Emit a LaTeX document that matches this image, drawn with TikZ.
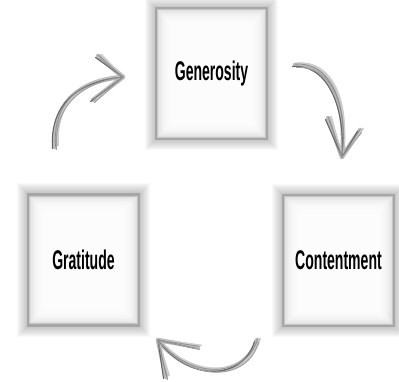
\documentclass[tikz,border=0pt]{standalone}
\usepackage{fontspec}
\newfontfamily\cardfont{Liberation Sans}
\usetikzlibrary{backgrounds}

\tikzset{
  card/.style={draw=gray!70, line width=3.5pt, minimum width=110pt, minimum height=130pt,
    inner sep=0pt, font=\cardfont\bfseries\fontsize{27}{27}\selectfont},
  brush/.style={line cap=round, line join=round},
}
\newcommand{\cardtext}[1]{\scalebox{0.52}[1]{#1}}

\begin{document}
\begin{tikzpicture}[x=1pt, y=-1pt]
  \useasboundingbox (0,0) rectangle (399,381);

  % the three cards
  \node[card] (gen) at (211.5,73.5) {\cardtext{Generosity}};
  \node[card] (grat) at (83.5,260) {\cardtext{Gratitude}};
  \node[card] (cont) at (338.5,260.5) {\cardtext{Contentment}};

  % soft shadow and inner glow
  \begin{scope}[on background layer]
    \foreach \n in {gen,grat,cont} {
      \foreach \k in {1,...,10}
        \fill[black, opacity=0.025] ([xshift=-\k pt, yshift=\k pt]\n.north west)
          rectangle ([xshift=\k pt, yshift=-\k pt]\n.south east);
      \fill[gray!45] (\n.north west) rectangle (\n.south east);
      \foreach \k in {1,...,12}
        \fill[white, opacity=0.27] ([xshift=1.5*\k pt, yshift=-1.5*\k pt]\n.north west)
          rectangle ([xshift=-1.5*\k pt, yshift=1.5*\k pt]\n.south east);
    }
  \end{scope}
  \foreach \n in {gen,grat,cont}
    \draw[gray!45, line width=1pt] ([xshift=3pt, yshift=-3pt]\n.north west)
      rectangle ([xshift=-3pt, yshift=3pt]\n.south east);

  % arrow ends
  \coordinate (la) at (55,147);
  \coordinate (lb) at (123,77);
  \coordinate (ra) at (295,65);
  \coordinate (rb) at (342,157);
  \coordinate (ba) at (257,340);
  \coordinate (bb) at (158,340);

  % hand drawn arrows
  \foreach \dx/\dy/\c/\w in {0/0/gray!55/4.5pt, 3/1.5/gray!40/2pt, -2.5/-1.5/black!60/1.1pt, 1.5/-2.5/gray!75/1pt, 0.5/0.8/black!45/0.7pt} {
    \draw[brush, draw=\c, line width=\w]
      ([xshift=\dx pt, yshift=\dy pt]la) .. controls (52+\dx,103-\dy) and (80+\dx,80-\dy) .. (lb)
      (lb) -- ([xshift=\dx pt, yshift=\dy pt]98,56)
      (lb) -- ([xshift=\dx pt, yshift=\dy pt]93,100);
    \draw[brush, draw=\c, line width=\w]
      ([xshift=\dx pt, yshift=\dy pt]ra) .. controls (327+\dx,62-\dy) and (348+\dx,100-\dy) .. (rb)
      (rb) -- ([xshift=\dx pt, yshift=\dy pt]328,118)
      (rb) -- ([xshift=\dx pt, yshift=\dy pt]360,130);
    \draw[brush, draw=\c, line width=\w]
      ([xshift=\dx pt, yshift=\dy pt]ba) .. controls (246+\dx,378-\dy) and (192+\dx,382-\dy) .. (bb)
      (bb) -- ([xshift=\dx pt, yshift=\dy pt]198,347)
      (bb) -- ([xshift=\dx pt, yshift=\dy pt]166,377);
  }
\end{tikzpicture}
\end{document}
